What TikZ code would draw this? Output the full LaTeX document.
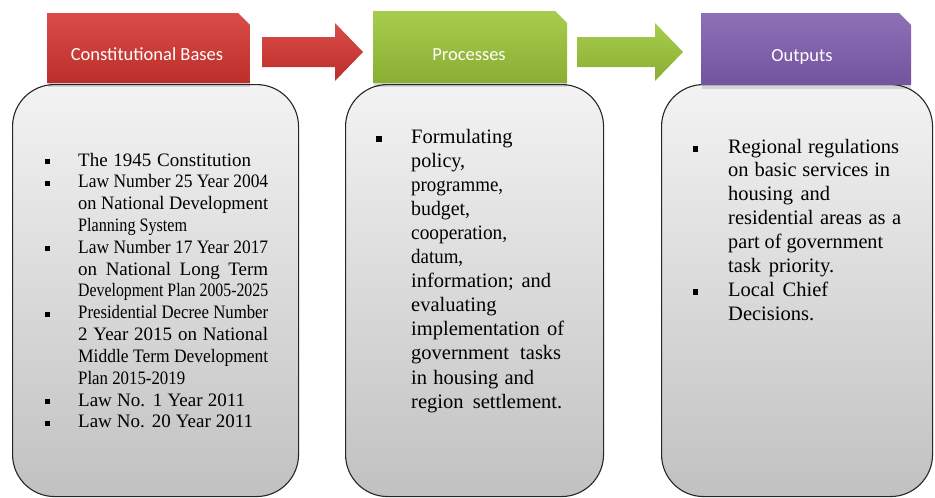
\documentclass[tikz,border=0pt]{standalone}
\usepackage{fontspec}
\setmainfont{Liberation Serif}
\newfontfamily\hdrfont{Carlito}
\usepackage{graphicx}
\definecolor{redA}{HTML}{DA4C47}
\definecolor{redB}{HTML}{BC2E2A}
\definecolor{grnA}{HTML}{A8CC4C}
\definecolor{grnB}{HTML}{8AAE33}
\definecolor{purA}{HTML}{8E70B7}
\definecolor{purB}{HTML}{72549F}
\definecolor{boxA}{HTML}{F3F3F3}
\definecolor{boxB}{HTML}{C1C1C1}
\definecolor{edgec}{HTML}{262626}
\newsavebox\flbox
\newcommand\fl[2]{\sbox\flbox{#2}\ifdim\wd\flbox>#1\relax\resizebox{#1}{\height}{#2}\else\hbox to #1{#2}\fi}
\newcommand\bline[2]{\hbox{\llap{\rule[\braise]{\bsz}{\bsz}\hskip\bgap}\fl{#1}{#2}}}
\newcommand\pline[2]{\hbox{\fl{#1}{#2}}}
\begin{document}
\begin{tikzpicture}[x=1pt,y=-1pt,
  bigbox/.style={draw=edgec, line width=1.1pt, rounded corners=42pt,
    top color=boxA, bottom color=boxB, minimum height=412pt,
    anchor=north west, inner sep=0pt},
  hdrshape/.style={draw=none},
  hdrshadow/.style={fill=black, opacity=0.13},
  hdrtext/.style={font=\hdrfont\fontsize{18.5}{20}\selectfont, text=white,
    anchor=base, inner sep=0pt},
  bodytext/.style={anchor=base west, inner sep=0pt}]
\useasboundingbox (0,0) rectangle (935,498);
\fill[white] (0,0) rectangle (935,498);

% big rounded boxes
\node[bigbox, minimum width=286pt] (b1) at (12,84) {};
\node[bigbox, minimum width=258pt] (b2) at (345,84) {};
\node[bigbox, minimum width=271pt] (b3) at (661,84) {};

% header shadows
\path[hdrshadow] (48,80) rectangle (250,87);
\path[hdrshadow] (374,80) rectangle (567,87);
\path[hdrshadow] (702,82) rectangle (911,89);

% header boxes
\path[hdrshape, top color=redA, bottom color=redB]
  (47,13) -- (238,13) -- (250,25) -- (250,83) -- (47,83) -- cycle;
\path[hdrshape, top color=grnA, bottom color=grnB]
  (373,11) -- (555,11) -- (567,23) -- (567,83) -- (373,83) -- cycle;
\path[hdrshape, top color=purA, bottom color=purB]
  (701,13) -- (899,13) -- (911,25) -- (911,85) -- (701,85) -- cycle;

\node[hdrtext] (hcb) at (147,60) {Constitutional Bases};
\node[hdrtext] (hpr) at (469,60) {Processes};
\node[hdrtext] (hout) at (802,61) {Outputs};

% block arrows
\path[top color=redA, bottom color=redB]
  (262,37) -- (335,37) -- (335,23) -- (363,52) -- (335,81) -- (335,67) -- (262,67) -- cycle;
\path[top color=grnA, bottom color=grnB]
  (577,37) -- (655,37) -- (655,23) -- (683,52) -- (655,81) -- (655,67) -- (577,67) -- cycle;

% box 1 text
\node[bodytext, font=\fontsize{19}{21.83}\selectfont] (t1) at (78,166) {\vtop{%
  \baselineskip=21.83pt\lineskiplimit=-100pt
  \def\bsz{5pt}\def\braise{2.2pt}\def\bgap{28pt}%
  \bline{173pt}{The 1945 Constitution}
  \bline{190pt}{Law Number 25 Year 2004}
  \pline{190pt}{on National Development}
  \pline{109pt}{Planning System}
  \bline{190pt}{Law Number 17 Year 2017}
  \pline{190pt}{on National Long Term}
  \pline{190pt}{Development Plan 2005-2025}
  \bline{190pt}{Presidential Decree Number}
  \pline{190pt}{2 Year 2015 on National}
  \pline{190pt}{Middle Term Development}
  \pline{107pt}{Plan 2015-2019}
  \bline{167pt}{Law No. 1 Year 2011}
  \bline{175pt}{Law No. 20 Year 2011}}};

% box 2 text
\node[bodytext, font=\fontsize{20.5}{24.1}\selectfont] (t2) at (411,143) {\vtop{%
  \baselineskip=24.1pt\lineskiplimit=-100pt
  \def\bsz{5.5pt}\def\braise{1.5pt}\def\bgap{29.5pt}%
  \bline{102pt}{Formulating}
  \pline{54pt}{policy,}
  \pline{92pt}{programme,}
  \pline{59pt}{budget,}
  \pline{96pt}{cooperation,}
  \pline{52pt}{datum,}
  \pline{140pt}{information; and}
  \pline{86pt}{evaluating}
  \pline{153pt}{implementation of}
  \pline{150pt}{government tasks}
  \pline{123pt}{in housing and}
  \pline{151pt}{region settlement.}}};

% box 3 text
\node[bodytext, font=\fontsize{20.5}{23.9}\selectfont] (t3) at (728,153) {\vtop{%
  \baselineskip=23.9pt\lineskiplimit=-100pt
  \def\bsz{5.5pt}\def\braise{1.5pt}\def\bgap{30pt}%
  \bline{171pt}{Regional regulations}
  \pline{162pt}{on basic services in}
  \pline{102pt}{housing and}
  \pline{173pt}{residential areas as a}
  \pline{155pt}{part of government}
  \pline{106pt}{task priority.}
  \bline{100pt}{Local Chief}
  \pline{90pt}{Decisions.}}};
\end{tikzpicture}
\end{document}
